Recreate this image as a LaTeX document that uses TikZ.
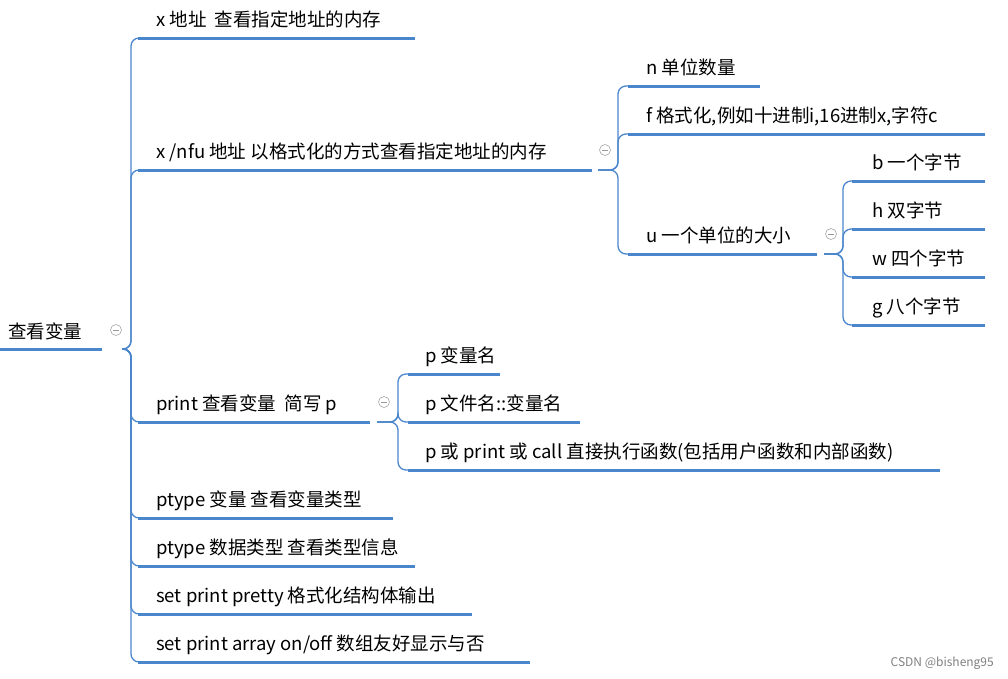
\documentclass[tikz,border=0pt]{standalone}
\usepackage{fontspec}
\setmainfont{Noto Sans CJK SC}
\begin{document}
\begin{tikzpicture}[x=1pt,y=-1pt,
  lbl/.style={anchor=base west,inner sep=0pt,font=\fontsize{18.5}{22}\selectfont},
  ul/.style={draw=lineblue,line width=3pt},
  br/.style={draw=lineblue,line width=1.3pt,rounded corners=8pt},
  fold/.style={circle,draw=gray!70,fill=white,minimum size=11pt,inner sep=0pt,line width=0.6pt,
    path picture={\draw[gray!80,line width=0.6pt] ([xshift=-3pt]path picture bounding box.center)--([xshift=3pt]path picture bounding box.center);}}]
\definecolor{lineblue}{RGB}{74,134,204}
\useasboundingbox (0,0) rectangle (1008,678);
% root
\node[lbl] (root) at (8,338) {查看变量};
\draw[ul] (0,349) -- (102,349);
\node[fold] (f0) at (116,330) {};
% level 1
\foreach \n/\y/\e/\t in {a/38/415/{x 地址\ \ 查看指定地址的内存},
  b/170/592/{x /nfu 地址 以格式化的方式查看指定地址的内存},
  c/422/370/{print 查看变量\ \ 简写 p},
  d/518/393/{ptype 变量 查看变量类型},
  e/566/415/{ptype 数据类型 查看类型信息},
  f/614/472/{set print pretty 格式化结构体输出},
  g/662/530/{set print array on/off 数组友好显示与否}}{
  \node[lbl] (\n) at (156,\y-12) {\t};
  \coordinate (\n l) at (138,\y);
  \draw[ul] (\n l) -- (\e,\y);
  \draw[br] (122,349) -- (131,349) -- (131,\y) -- (\n l);
}
% level 2 under b
\node[fold] (fb) at (605,150) {};
\foreach \n/\y/\e/\t in {bn/86/760/{n 单位数量},
  bf/134/985/{f 格式化,例如十进制i,16进制x,字符c},
  bu/254/817/{u 一个单位的大小}}{
  \node[lbl] (\n) at (646,\y-12) {\t};
  \coordinate (\n l) at (628,\y);
  \draw[ul] (\n l) -- (\e,\y);
  \draw[br] (598,170) -- (618,170) -- (618,\y) -- (\n l);
}
\node[fold] (fu) at (831,234) {};
\foreach \n/\y/\t in {ub/181/{b 一个字节},uh/229/{h 双字节},uw/277/{w 四个字节},ug/325/{g 八个字节}}{
  \node[lbl] (\n) at (872,\y-12) {\t};
  \coordinate (\n l) at (852,\y);
  \draw[ul] (\n l) -- (985,\y);
  \draw[br] (824,254) -- (843,254) -- (843,\y) -- (\n l);
}
\node[fold] (fc) at (384,402) {};
\foreach \n/\y/\e/\t in {p1/374/500/{p 变量名},p2/422/580/{p 文件名::变量名},
  p3/470/940/{p 或 print 或 call 直接执行函数(包括用户函数和内部函数)}}{
  \node[lbl] (\n) at (425,\y-12) {\t};
  \coordinate (\n l) at (408,\y);
  \draw[ul] (\n l) -- (\e,\y);
  \draw[br] (377,422) -- (398,422) -- (398,\y) -- (\n l);
}
\node[anchor=base east,inner sep=0pt,text=gray,font=\fontsize{12}{14}\selectfont] (wm) at (994,666) {CSDN @bisheng95};
\end{tikzpicture}
\end{document}
